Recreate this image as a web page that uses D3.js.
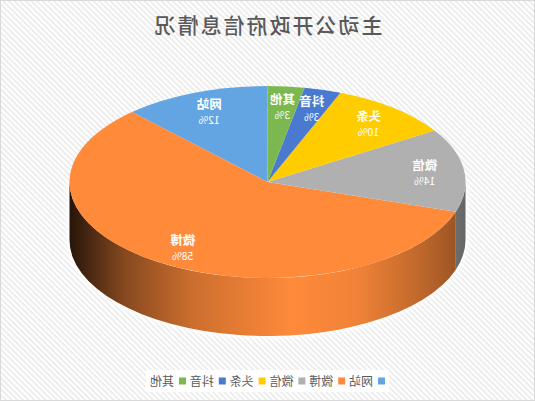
<!DOCTYPE html>
<html>
<head>
<meta charset="UTF-8">
<title>主动公开政府信息情况</title>
<style>
  body { margin: 0; background: #fff; }
  svg text { font-family: "Noto Sans CJK SC", "Noto Sans", sans-serif; }
</style>
</head>
<body>
<svg></svg>
<script src="https://d3js.org/d3.v7.min.js"></script>
<script>
// data
const categories = ["网站", "微博", "微信", "头条", "抖音", "其他"];
const values = [12, 58, 14, 10, 3, 3];
const colors = ["#62a5e2", "#ff8a3a", "#b0b0b0", "#ffcc00", "#4a7ad0", "#7bb84f"];

const width = 535, height = 401;
const cx = 267.5, cy = 182, rx = 198, ry = 96, depth = 58;

const svg = d3.select("svg").attr("width", width).attr("height", height);
const defs = svg.append("defs");

// the reference picture is mirrored left to right
const root = svg.append("g").attr("transform", `translate(${width},0) scale(-1,1)`);

// striped background
const pat = defs.append("pattern").attr("id", "stripes")
    .attr("width", 4).attr("height", 4)
    .attr("patternUnits", "userSpaceOnUse")
    .attr("patternTransform", "rotate(45)");
pat.append("rect").attr("width", 4).attr("height", 4).attr("fill", "#ffffff");
pat.append("rect").attr("width", 1.6).attr("height", 4).attr("fill", "#e9e9e9");

root.append("rect").attr("x", 0.5).attr("y", 0.5)
    .attr("width", width - 1).attr("height", height - 1)
    .attr("fill", "url(#stripes)").attr("stroke", "#d9d9d9");

// title
root.append("text")
    .attr("x", width / 2).attr("y", 33)
    .attr("text-anchor", "middle")
    .attr("font-size", 21).attr("letter-spacing", 2)
    .attr("font-weight", 500)
    .attr("fill", "#595959")
    .text("主动公开政府信息情况");

// pie angles (clockwise from 12 o'clock)
const pie = d3.pie().sort(null).value(d => d.value);
const arcs = pie(categories.map((c, i) => ({ name: c, value: values[i], color: colors[i] })));

const px = a => cx + rx * Math.sin(a);
const py = a => cy - ry * Math.cos(a);

// soft white halo behind the disc
defs.append("filter").attr("id", "glow").attr("x", "-10%").attr("y", "-10%")
    .attr("width", "120%").attr("height", "120%")
    .append("feGaussianBlur").attr("stdDeviation", 2.5);
const halo = root.append("g").attr("filter", "url(#glow)").attr("fill", "#fff").attr("stroke", "#fff").attr("stroke-width", 4);
halo.append("ellipse").attr("cx", cx).attr("cy", cy + depth).attr("rx", rx).attr("ry", ry);
halo.append("rect").attr("x", cx - rx).attr("y", cy).attr("width", rx * 2).attr("height", depth);

// side walls
const shade = [[0, 0.42], [0.1, 0.27], [0.27, 0.06], [0.44, 0], [0.69, 0.2], [0.86, 0.47], [1, 0.85]];
arcs.forEach((d, i) => {
    const g = defs.append("linearGradient").attr("id", "side" + i)
        .attr("gradientUnits", "userSpaceOnUse")
        .attr("x1", cx - rx).attr("x2", cx + rx).attr("y1", 0).attr("y2", 0);
    shade.forEach(s => g.append("stop").attr("offset", s[0])
        .attr("stop-color", d3.interpolateRgb(d.data.color, "#000")(s[1])));
});

const sides = root.append("g");
arcs.forEach((d, i) => {
    const s0 = Math.max(d.startAngle, Math.PI / 2);
    const s1 = Math.min(d.endAngle, Math.PI * 3 / 2);
    if (s1 <= s0) return;
    const large = s1 - s0 > Math.PI ? 1 : 0;
    const path = `M${px(s0)},${py(s0)} A${rx},${ry} 0 ${large} 1 ${px(s1)},${py(s1)}` +
        ` L${px(s1)},${py(s1) + depth} A${rx},${ry} 0 ${large} 0 ${px(s0)},${py(s0) + depth} Z`;
    sides.append("path").attr("d", path).attr("fill", `url(#side${i})`);
});

// top faces
const tops = root.append("g");
arcs.forEach(d => {
    const a0 = d.startAngle, a1 = d.endAngle;
    const large = a1 - a0 > Math.PI ? 1 : 0;
    tops.append("path")
        .attr("d", `M${cx},${cy} L${px(a0)},${py(a0)} A${rx},${ry} 0 ${large} 1 ${px(a1)},${py(a1)} Z`)
        .attr("fill", d.data.color);
});

// data labels
const k = 0.8;
const labels = root.append("g").attr("fill", "#fff").attr("text-anchor", "middle");
arcs.forEach(d => {
    const m = (d.startAngle + d.endAngle) / 2;
    const x = cx + k * rx * Math.sin(m), y = cy - k * ry * Math.cos(m);
    labels.append("text").attr("x", x).attr("y", y - 2)
        .attr("font-size", 12.5).attr("font-weight", "bold").text(d.data.name);
    labels.append("text").attr("x", x).attr("y", y + 13)
        .attr("font-size", 10.5).text(d.data.value + "%");
});

// legend
const lx = d3.scalePoint().domain(categories).range([150, 349]);
const legend = root.append("g");
legend.append("rect").attr("x", 146).attr("y", 370).attr("width", 243).attr("height", 22).attr("fill", "#fff");
categories.forEach((c, i) => {
    const it = legend.append("g").attr("transform", `translate(${lx(c)},381)`);
    it.append("rect").attr("x", 0).attr("y", -3.5).attr("width", 7).attr("height", 7).attr("fill", colors[i]);
    it.append("text").attr("x", 12).attr("y", 4.5).attr("font-size", 12)
        .attr("fill", "#595959").text(c);
});
</script>
</body>
</html>
